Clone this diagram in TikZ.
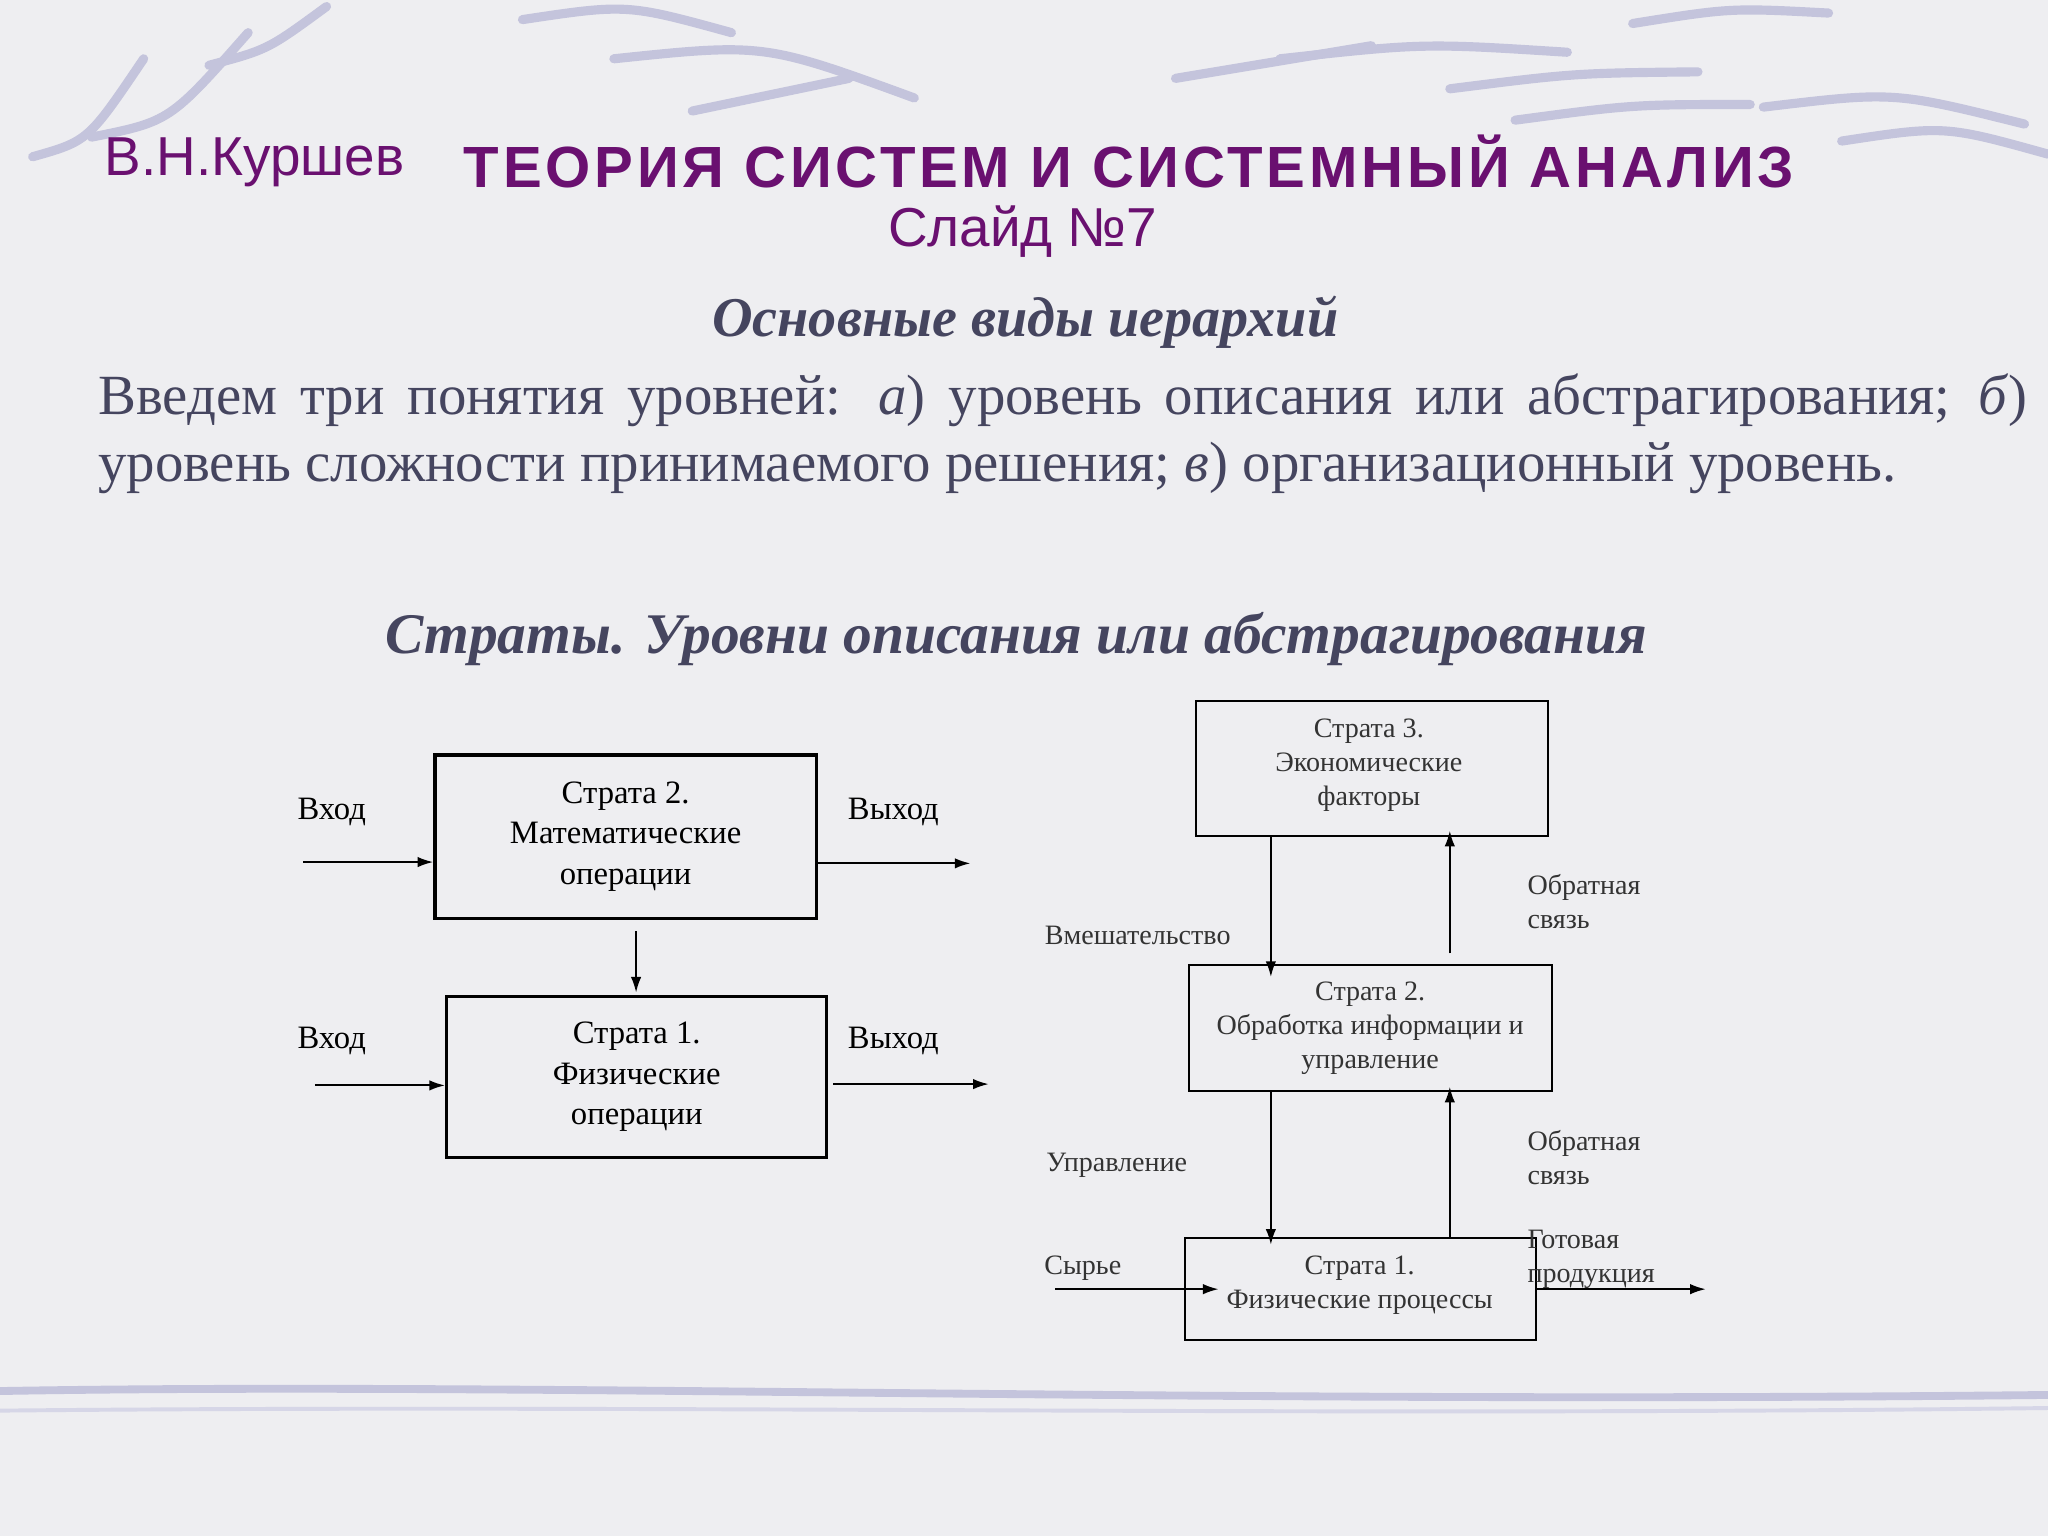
\documentclass[tikz,border=0pt]{standalone}
\usepackage{fontspec}
\setmainfont{Liberation Serif}
\newfontfamily\hdr{Liberation Sans}
\newfontfamily\hdrw[LetterSpace=6.5]{Liberation Sans}
\usetikzlibrary{arrows.meta}
\definecolor{bg}{HTML}{EEEEF1}
\definecolor{wave}{HTML}{C4C4DC}
\definecolor{ttl}{HTML}{6A1070}
\definecolor{bodyc}{HTML}{45455F}
\tikzset{
 box/.style={draw,line width=2.5pt,align=center,font=\fontsize{25}{31}\selectfont,inner sep=0},
 rbox/.style={draw,line width=1.5pt,align=center,inner sep=0},
 lab/.style={font=\fontsize{25}{28}\selectfont},
 rlab/.style={font=\fontsize{21.5}{26}\selectfont,align=left,anchor=west,text=black!80},
 rtxt/.style={font=\fontsize{21.5}{26}\selectfont,align=center,text=black!80},
 arr/.style={-{Latex[length=12pt,width=8pt]},line width=1.5pt},
 wv/.style={wave,line width=7pt,line cap=round}
}
\begin{document}
\begin{tikzpicture}[x=1pt,y=-1pt]
\useasboundingbox (0,0) rectangle (1568,1176);
\fill[bg] (0,0) rectangle (1568,1176);
% decorative waves
\foreach \a/\b/\c/\d in {25/120/110/45, 70/105/190/25, 160/50/250/5, 400/15/560/25, 470/45/700/75, 530/85/650/60, 900/60/1050/35, 980/45/1200/40, 1110/68/1300/55, 1250/18/1400/10, 1350/82/1550/95, 1410/108/1568/118, 1160/92/1340/80}
 \draw[wv] (\a,\b) .. controls ({(\a+\c)/2},{\b-12}) .. (\c,\d);
\draw[wave,line width=6pt] (0,1065) .. controls (400,1058) and (900,1075) .. (1568,1068);
\draw[wave!70,line width=3pt] (0,1080) .. controls (500,1075) and (1000,1085) .. (1568,1078);
% headers
\node[font=\hdr\fontsize{42}{44}\selectfont,text=ttl,anchor=west,inner sep=0] (au) at (80,124) {В.Н.Куршев};
\node[font=\hdrw\fontsize{44.5}{46}\selectfont,text=ttl,anchor=west,inner sep=0] (ti) at (355,124) {\bfseries ТЕОРИЯ СИСТЕМ И СИСТЕМНЫЙ АНАЛИЗ};
\node[font=\hdr\fontsize{42}{44}\selectfont,text=ttl] (sl) at (783,177) {Слайд №7};
\node[font=\bfseries\itshape\fontsize{43}{46}\selectfont,text=bodyc] (h1) at (785,247) {Основные виды иерархий};
\node[font=\fontsize{43.5}{51}\selectfont,text=bodyc,text width=1477pt,align=justify,anchor=north west,inner sep=0] (p) at (75,286)
 {Введем три понятия уровней: \textit{а}) уровень описания или абстрагирования; \textit{б}) уровень сложности принимаемого решения; \textit{в}) организационный уровень.};
\node[font=\bfseries\itshape\fontsize{44}{46}\selectfont,text=bodyc] (h2) at (778,489) {Страты. Уровни описания или абстрагирования};
% left diagram
\node[box,minimum width=292pt,minimum height=125pt] (L2) at (479,640.5) {Страта 2.\\Математические\\операции};
\node[box,minimum width=291pt,minimum height=123pt] (L1) at (487.5,824.5) {Страта 1.\\Физические\\операции};
\coordinate (i2) at (232,660); \coordinate (o2) at (743,661);
\coordinate (i1) at (241,831); \coordinate (o1) at (757,830);
\coordinate (m1) at (487,713); \coordinate (m2) at (487,760);
\draw[arr] (i2) -- (i2-|L2.west);
\draw[arr] (o2-|L2.east) -- (o2);
\draw[arr] (i1) -- (i1-|L1.west);
\draw[arr] (638,830) -- (o1);
\draw[arr] (m1) -- (m2);
\node[lab] (v1) at (254,622) {Вход};
\node[lab] (v2) at (254,797) {Вход};
\node[lab] (w1) at (684,622) {Выход};
\node[lab] (w2) at (684,797) {Выход};
% right diagram
\node[rbox,minimum width=269pt,minimum height=103pt] (R3) at (1050.5,588.5) {};
\node[rbox,minimum width=278pt,minimum height=96pt] (R2) at (1049,787) {};
\node[rbox,minimum width=269pt,minimum height=78pt] (R1) at (1041.5,987) {};
\node[rtxt] (t3) at (1048,586) {Страта 3.\\Экономические\\факторы};
\node[rtxt] (t2) at (1049,787) {Страта 2.\\Обработка информации и\\управление};
\node[rtxt] (t1) at (1041,984) {Страта 1.\\Физические процессы};
\draw[arr] (973,640) -- (973,748);
\draw[arr] (1110,730) -- (1110,636);
\draw[arr] (973,835) -- (973,953);
\draw[arr] (1110,948) -- (1110,832);
\coordinate (sy) at (808,987); \coordinate (gp) at (1306,987);
\draw[arr] (sy) -- (933,987);
\draw[arr] (R1.east|-gp) -- (gp);
\node[rtxt] (vm) at (871,716) {Вмешательство};
\node[rlab] (f1) at (1166,690) {Обратная\\связь};
\node[rtxt] (up) at (855,892) {Управление};
\node[rlab] (f2) at (1166,886) {Обратная\\связь};
\node[rtxt] (sr) at (829,971) {Сырье};
\node[rlab] (gt) at (1166,964) {Готовая\\продукция};
\end{tikzpicture}
\end{document}
